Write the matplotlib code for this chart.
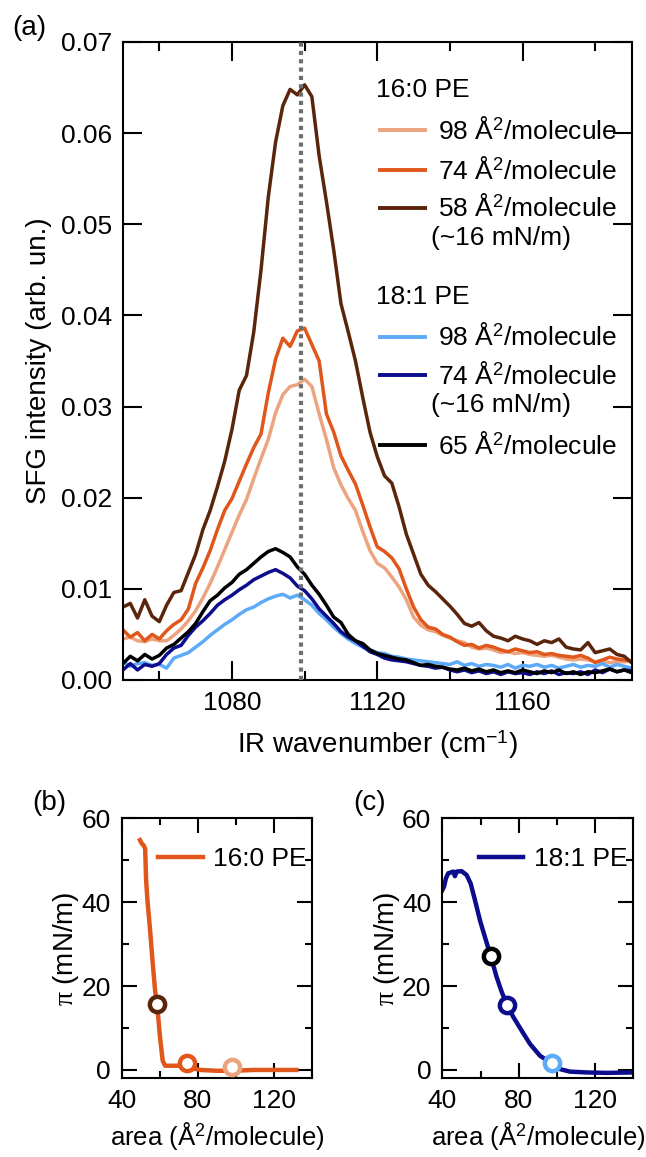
import numpy as np
import matplotlib
matplotlib.use('Agg')
import matplotlib.pyplot as plt
from matplotlib.ticker import MultipleLocator

plt.rcParams['font.family'] = ['Liberation Sans', 'DejaVu Sans']
plt.rcParams['mathtext.fontset'] = 'custom'
plt.rcParams['mathtext.rm'] = 'Liberation Sans'
plt.rcParams['mathtext.it'] = 'Liberation Serif'
plt.rcParams['font.size'] = 19
plt.rcParams['axes.labelsize'] = 20
plt.rcParams['axes.linewidth'] = 1.5

# ---- (a) SFG spectra, read every 2 cm-1 from 1050 to 1190 ----
wavenumber = np.arange(1050, 1191, 2)

pe16_98 = [0.0045, 0.0047, 0.0043, 0.0042, 0.0045, 0.0043, 0.0043, 0.0049, 0.0056, 0.0065,
           0.0076, 0.0090, 0.0106, 0.0124, 0.0143, 0.0162, 0.0181, 0.0198, 0.0221, 0.0243,
           0.0264, 0.0293, 0.0313, 0.0322, 0.0324, 0.0330, 0.0322, 0.0292, 0.0264, 0.0233,
           0.0214, 0.0199, 0.0186, 0.0163, 0.0142, 0.0128, 0.0123, 0.0113, 0.0102, 0.0088,
           0.0069, 0.0060, 0.0055, 0.0053, 0.0049, 0.0046, 0.0043, 0.0041, 0.0036, 0.0034,
           0.0035, 0.0033, 0.0030, 0.0031, 0.0029, 0.0030, 0.0028, 0.0027, 0.0026, 0.0027,
           0.0025, 0.0023, 0.0022, 0.0023, 0.0022, 0.0020, 0.0021, 0.0019, 0.0020, 0.0020,
           0.0021]
pe16_74 = [0.0055, 0.0047, 0.0052, 0.0043, 0.0050, 0.0045, 0.0054, 0.0061, 0.0066, 0.0078,
           0.0106, 0.0123, 0.0142, 0.0165, 0.0186, 0.0199, 0.0218, 0.0237, 0.0255, 0.0270,
           0.0315, 0.0352, 0.0375, 0.0366, 0.0383, 0.0386, 0.0368, 0.0350, 0.0292, 0.0272,
           0.0246, 0.0230, 0.0215, 0.0192, 0.0168, 0.0146, 0.0141, 0.0134, 0.0122, 0.0100,
           0.0080, 0.0066, 0.0058, 0.0056, 0.0050, 0.0047, 0.0042, 0.0038, 0.0039, 0.0035,
           0.0038, 0.0036, 0.0033, 0.0031, 0.0034, 0.0032, 0.0030, 0.0031, 0.0028, 0.0029,
           0.0027, 0.0026, 0.0025, 0.0027, 0.0024, 0.0019, 0.0022, 0.0025, 0.0023, 0.0022,
           0.0021]
pe16_58 = [0.0080, 0.0084, 0.0068, 0.0088, 0.0070, 0.0064, 0.0082, 0.0096, 0.0098, 0.0118,
           0.0138, 0.0165, 0.0186, 0.0212, 0.0240, 0.0275, 0.0318, 0.0334, 0.0382, 0.0450,
           0.0530, 0.0590, 0.0630, 0.0648, 0.0642, 0.0653, 0.0640, 0.0575, 0.0525, 0.0472,
           0.0413, 0.0382, 0.0350, 0.0310, 0.0272, 0.0245, 0.0224, 0.0216, 0.0190, 0.0160,
           0.0138, 0.0116, 0.0104, 0.0097, 0.0089, 0.0081, 0.0072, 0.0062, 0.0059, 0.0063,
           0.0054, 0.0048, 0.0046, 0.0043, 0.0048, 0.0045, 0.0043, 0.0039, 0.0043, 0.0041,
           0.0045, 0.0036, 0.0034, 0.0033, 0.0041, 0.0030, 0.0032, 0.0034, 0.0028, 0.0026,
           0.0019]
pe18_98 = [0.0020, 0.0015, 0.0018, 0.0019, 0.0016, 0.0017, 0.0013, 0.0024, 0.0027, 0.0030,
           0.0036, 0.0042, 0.0049, 0.0055, 0.0061, 0.0066, 0.0072, 0.0077, 0.0080, 0.0085,
           0.0089, 0.0092, 0.0094, 0.0090, 0.0093, 0.0088, 0.0082, 0.0073, 0.0066, 0.0058,
           0.0051, 0.0045, 0.0040, 0.0036, 0.0033, 0.0030, 0.0029, 0.0026, 0.0025, 0.0023,
           0.0022, 0.0021, 0.0020, 0.0019, 0.0018, 0.0017, 0.0020, 0.0016, 0.0018, 0.0015,
           0.0017, 0.0016, 0.0014, 0.0017, 0.0013, 0.0016, 0.0015, 0.0017, 0.0014, 0.0016,
           0.0013, 0.0015, 0.0017, 0.0014, 0.0016, 0.0015, 0.0018, 0.0014, 0.0017, 0.0015,
           0.0013]
pe18_74 = [0.0011, 0.0018, 0.0011, 0.0017, 0.0015, 0.0018, 0.0028, 0.0035, 0.0038, 0.0049,
           0.0058, 0.0065, 0.0073, 0.0082, 0.0088, 0.0093, 0.0099, 0.0104, 0.0110, 0.0114,
           0.0118, 0.0121, 0.0117, 0.0112, 0.0103, 0.0098, 0.0089, 0.0078, 0.0070, 0.0062,
           0.0053, 0.0047, 0.0043, 0.0037, 0.0031, 0.0028, 0.0024, 0.0022, 0.0021, 0.0020,
           0.0018, 0.0016, 0.0015, 0.0013, 0.0014, 0.0011, 0.0009, 0.0011, 0.0008, 0.0010,
           0.0007, 0.0009, 0.0006, 0.0009, 0.0007, 0.0008, 0.0006, 0.0009, 0.0007, 0.0010,
           0.0006, 0.0008, 0.0007, 0.0009, 0.0006, 0.0011, 0.0008, 0.0012, 0.0009, 0.0011,
           0.0010]
pe18_65 = [0.0018, 0.0026, 0.0021, 0.0028, 0.0023, 0.0027, 0.0035, 0.0039, 0.0046, 0.0053,
           0.0062, 0.0075, 0.0087, 0.0093, 0.0101, 0.0107, 0.0116, 0.0121, 0.0128, 0.0135,
           0.0141, 0.0144, 0.0140, 0.0135, 0.0124, 0.0116, 0.0104, 0.0094, 0.0082, 0.0069,
           0.0063, 0.0050, 0.0043, 0.0040, 0.0033, 0.0029, 0.0027, 0.0025, 0.0023, 0.0022,
           0.0019, 0.0016, 0.0017, 0.0015, 0.0014, 0.0012, 0.0011, 0.0013, 0.0010, 0.0012,
           0.0009, 0.0011, 0.0008, 0.0010, 0.0008, 0.0011, 0.0009, 0.0007, 0.0010, 0.0008,
           0.0011, 0.0007, 0.0009, 0.0006, 0.0009, 0.0008, 0.0010, 0.0012, 0.0009, 0.0011,
           0.0008]
peak_line = 1099

# ---- (b), (c) isotherms ----
area_16 = [49.6, 50.5, 51.4, 52.3, 52.8, 53.5, 54.9, 56.3, 57.5, 58.7, 60.1, 61.5, 62.8,
           67.1, 71.5, 75.9, 81.2, 89.9, 98.7, 109.2, 119.7, 131.6]
pi_16 = [54.8, 54.0, 53.6, 52.8, 45.3, 40.5, 33.3, 25.3, 19.0, 15.0, 7.8, 2.2, 1.0,
         1.0, 1.0, 0.5, 0.0, -0.2, -0.2, 0.0, 0.0, 0.0]
area_18 = [40.0, 40.9, 41.9, 43.1, 45.8, 46.6, 47.5, 50.1, 52.7, 54.8, 57.1, 59.7, 62.3,
           65.3, 68.4, 71.1, 74.0, 77.2, 81.5, 85.9, 91.1, 96.4, 101.6, 106.8, 115.6,
           126.0, 140.0]
pi_18 = [42.9, 43.7, 45.7, 46.9, 47.3, 46.2, 47.3, 47.4, 46.5, 44.5, 40.5, 35.7, 31.7,
         27.2, 22.2, 18.6, 15.4, 12.6, 9.4, 6.2, 3.4, 1.8, 0.2, -0.4, -0.6, -0.7, -0.6]

mark16_area = [58.6, 74.2, 98.1]
mark16_pi = [15.8, 1.6, 0.8]
mark18_area = [65.3, 74.0, 97.6]
mark18_pi = [27.2, 15.4, 1.6]

c_peach = '#EBA47F'
c_orange = '#E0561B'
c_brown = '#5A250B'
c_lblue = '#5CAAF8'
c_navy = '#0C0C8C'
c_black = '#000000'

fig = plt.figure(figsize=(6.46, 11.57), dpi=100)

# ---------- (a) ----------
ax = fig.add_axes([0.1904, 0.4123, 0.7872, 0.5514])
for y, c in [(pe16_98, c_peach), (pe16_74, c_orange), (pe16_58, c_brown),
             (pe18_98, c_lblue), (pe18_74, c_navy), (pe18_65, c_black)]:
    ax.plot(wavenumber, y, color=c, lw=2.5)
ax.axvline(peak_line, color='#6E6E6E', lw=3, ls=(0, (1, 1)), dash_capstyle='butt', zorder=5)
ax.set_xlim(1050, 1190)
ax.set_ylim(0, 0.07)
ax.xaxis.set_major_locator(MultipleLocator(40))
ax.xaxis.set_minor_locator(MultipleLocator(20))
ax.yaxis.set_major_locator(MultipleLocator(0.01))
ax.yaxis.set_major_formatter(plt.FormatStrFormatter('%.2f'))
ax.tick_params(which='both', direction='in', top=True, right=True, width=1.5, pad=8)
ax.tick_params(which='major', length=13.5)
ax.tick_params(which='minor', length=6.5)
ax.set_xlabel(r'IR wavenumber (cm$^{-1}$)', labelpad=10)
ax.set_ylabel('SFG intensity (arb. un.)', labelpad=6)

# legend of (a), drawn in axes fraction
tr = ax.transAxes
ax.text(0.498, 0.925, '16:0 PE', transform=tr, ha='left', va='center')
ax.text(0.498, 0.600, '18:1 PE', transform=tr, ha='left', va='center')
rows = [(0.862, c_peach, '98'), (0.799, c_orange, '74'), (0.740, c_brown, '58'),
        (0.538, c_lblue, '98'), (0.478, c_navy, '74'), (0.368, c_black, '65')]
for y, c, n in rows:
    ax.plot([0.502, 0.598], [y, y], color=c, lw=2.8, transform=tr, solid_capstyle='butt')
    ax.text(0.620, y, n + r' Å$^2$/molecule', transform=tr, ha='left', va='center')
ax.text(0.606, 0.693, '(~16 mN/m)', transform=tr, ha='left', va='center')
ax.text(0.606, 0.431, '(~16 mN/m)', transform=tr, ha='left', va='center')


def iso_axes(rect, area, pi, color, m_area, m_pi, m_colors, name):
    a = fig.add_axes(rect)
    a.plot(area, pi, color=color, lw=3.2, label=name)
    for xx, yy, mc in zip(m_area, m_pi, m_colors):
        a.plot(xx, yy, 'o', ms=11, mfc='white', mec=mc, mew=3.2, zorder=5)
    a.set_xlim(40, 140)
    a.set_ylim(-2, 60)
    a.xaxis.set_major_locator(MultipleLocator(40))
    a.xaxis.set_minor_locator(MultipleLocator(20))
    a.yaxis.set_major_locator(MultipleLocator(20))
    a.yaxis.set_minor_locator(MultipleLocator(10))
    a.tick_params(which='both', direction='in', top=True, right=True, width=1.5, pad=8)
    a.tick_params(which='major', length=11)
    a.tick_params(which='minor', length=5)
    a.set_xlabel(r'area (Å$^2$/molecule)', labelpad=5, fontsize=18.5)
    a.set_ylabel(r'$\pi$ (mN/m)', labelpad=0)
    a.legend(loc='center left', bbox_to_anchor=(0.19, 0.842), frameon=False,
             handlelength=1.7, handletextpad=0.4, borderpad=0, borderaxespad=0)
    return a


iso_axes([0.1884, 0.0680, 0.2950, 0.2247], area_16, pi_16, c_orange,
         mark16_area, mark16_pi, [c_brown, c_orange, c_peach], '16:0 PE')
iso_axes([0.6847, 0.0680, 0.2957, 0.2247], area_18, pi_18, c_navy,
         mark18_area, mark18_pi, [c_black, c_navy, c_lblue], '18:1 PE')

fig.text(0.0186, 0.9758, '(a)', ha='left', va='center', fontsize=20)
fig.text(0.0495, 0.306, '(b)', ha='left', va='center', fontsize=20)
fig.text(0.5464, 0.306, '(c)', ha='left', va='center', fontsize=20)

fig.savefig('out.png', dpi=100)
